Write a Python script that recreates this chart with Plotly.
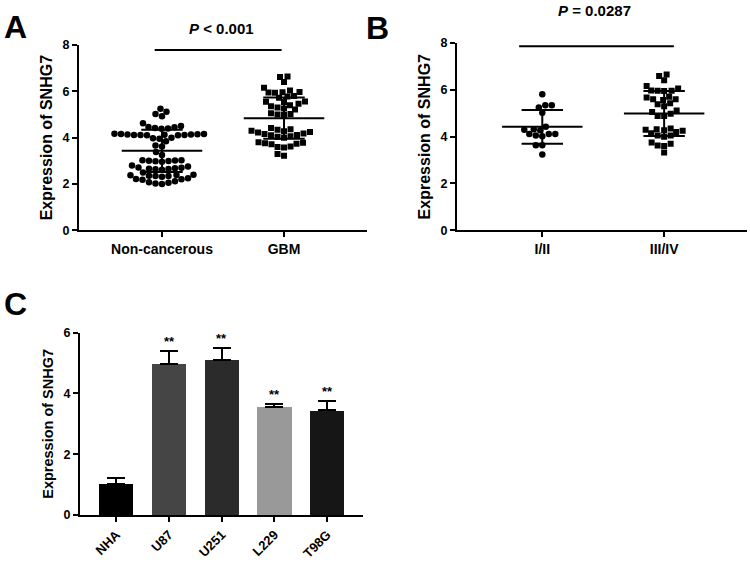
import plotly.graph_objects as go

# ---------------- data ----------------
# Panel A
a_categories = ["Non-cancerous", "GBM"]
a_noncancerous = [5.25, 5.12, 5.02, 4.92,
                  4.62, 4.50, 4.45, 4.42, 4.40, 4.38, 4.46,
                  4.10, 4.12, 4.14, 4.16, 4.11, 4.13, 4.15, 4.17, 4.12, 4.14, 4.10, 4.16,
                  4.00, 3.98, 3.95, 3.85, 3.66, 3.62, 3.38, 3.25,
                  3.02, 3.00, 3.01, 2.98, 2.99, 3.03, 2.96, 2.80,
                  2.70, 2.68, 2.65, 2.66, 2.62, 2.64, 2.71, 2.76, 2.50,
                  2.40, 2.38, 2.35, 2.36, 2.39, 2.34, 2.31,
                  2.25, 2.20, 2.18, 2.22, 2.08, 2.02, 2.00, 2.05, 2.12]
a_gbm = [6.64, 6.62, 6.40, 6.16, 6.04, 5.97, 5.96, 5.95, 5.94, 5.80, 5.78, 5.72,
         5.56, 5.55, 5.54, 5.46, 5.36, 5.40, 5.30, 5.26, 5.22, 5.05, 5.02, 5.00, 4.98, 4.42,
         4.00, 4.04, 4.06, 4.10, 4.12, 4.16, 4.18, 4.22, 4.24, 4.28, 4.30, 4.34, 4.36,
         3.80, 3.78, 3.76, 3.74, 3.72, 3.62, 3.60, 3.58, 3.30, 3.22]
a_means = [3.43, 4.84]
a_sds = [0.91, 0.89]
a_pvalue = "<b><i>P</i> &lt; 0.001</b>"

# Panel B
b_categories = ["I/II", "III/IV"]
b_stage12 = [5.81, 5.34, 5.34, 5.25, 5.02, 4.30, 4.43, 4.28, 4.32,
             4.12, 4.12, 4.02, 4.05, 4.12, 3.63, 3.63, 3.24]
b_stage34 = [6.66, 6.59, 6.41, 6.17, 6.06, 5.96, 5.96, 5.95, 5.97, 5.71, 5.68,
             5.60, 5.60, 5.57, 5.43, 5.39, 5.30, 5.12, 5.05, 4.98, 4.88, 4.88,
             4.35, 4.30, 4.28, 4.25, 4.20, 4.32, 4.15, 4.05, 4.05, 4.00,
             3.75, 3.70, 3.62, 3.60, 3.32]
b_means = [4.42, 4.99]
b_sds = [0.72, 0.96]
b_pvalue = "<b><i>P</i> = 0.0287</b>"

# Panel C
c_cells = ["NHA", "U87", "U251", "L229", "T98G"]
c_values = [1.02, 4.98, 5.11, 3.56, 3.45]
c_errors = [0.21, 0.42, 0.38, 0.11, 0.30]
c_stars = ["", "**", "**", "**", "**"]
c_colors = ["#000000", "#454545", "#2b2b2b", "#999999", "#161616"]

y_title = "Expression of SNHG7"

# ---------------- layout geometry ----------------
W, H = 750, 563
FONT = "Liberation Sans, Arial, sans-serif"


def xd(p0, p1):
    return [p0 / W, p1 / W]


def yd(top, bottom):
    return [1 - bottom / H, 1 - top / H]


A_X, A_Y = (79, 367), (39, 229)
B_X, B_Y = (457, 747), (37, 229)
C_X, C_Y = (80, 363), (334, 521)
A_XR, A_YR = [-0.68, 1.68], [0, 8]
B_XR, B_YR = [-0.70, 1.68], [0, 8]
C_XR, C_YR = [-0.69, 4.68], [0, 6]


def beeswarm(values, pxx, pxy, D=6.5, step=0.5):
    """Deterministic beeswarm: offsets (in data units) from values."""
    order = sorted(range(len(values)), key=lambda i: values[i])
    placed = []
    offs = [0.0] * len(values)
    for i in order:
        y = values[i] * pxy
        found = None
        k = 0
        while found is None:
            cands = [0.0] if k == 0 else [-k * step, k * step]
            for c in cands:
                if all((c - px) ** 2 + (y - py) ** 2 >= D * D for px, py in placed):
                    found = c
                    break
            k += 1
        placed.append((found, y))
        offs[i] = found / pxx
    return offs


fig = go.Figure()


def scatter_panel(groups, symbols, means, sds, xaxis, yaxis, xpix, ypix, xr, yr):
    pxx = (xpix[1] - xpix[0]) / (xr[1] - xr[0])
    pxy = (ypix[1] - ypix[0]) / (yr[1] - yr[0])
    for gi, (vals, sym) in enumerate(zip(groups, symbols)):
        offs = beeswarm(vals, pxx, pxy)
        fig.add_trace(go.Scatter(
            x=[gi + o for o in offs], y=vals, mode="markers",
            marker=dict(symbol=sym, size=6 if sym == "square" else 6.5, color="black",
                        line=dict(width=0)),
            xaxis=xaxis, yaxis=yaxis, showlegend=False, hoverinfo="y"))
    lx, ly = [], []
    for gi, (m, s) in enumerate(zip(means, sds)):
        lx += [gi - 0.33, gi + 0.33, None, gi, gi, None,
               gi - 0.17, gi + 0.17, None, gi - 0.17, gi + 0.17, None]
        ly += [m, m, None, m - s, m + s, None,
               m + s, m + s, None, m - s, m - s, None]
    fig.add_trace(go.Scatter(x=lx, y=ly, mode="lines", line=dict(color="black", width=2),
                             xaxis=xaxis, yaxis=yaxis, showlegend=False, hoverinfo="skip"))


scatter_panel([a_noncancerous, a_gbm], ["circle", "square"], a_means, a_sds,
              "x", "y", A_X, A_Y, A_XR, A_YR)
scatter_panel([b_stage12, b_stage34], ["circle", "square"], b_means, b_sds,
              "x2", "y2", B_X, B_Y, B_XR, B_YR)

fig.add_trace(go.Bar(
    x=list(range(len(c_cells))), y=c_values, width=0.65,
    marker=dict(color=c_colors, line=dict(width=0)),
    error_y=dict(type="data", symmetric=False, array=c_errors,
                 arrayminus=[0] * len(c_errors), color="black", thickness=2, width=9),
    xaxis="x3", yaxis="y3", showlegend=False))

tick_font = dict(family=FONT, size=12.5, color="black", weight="bold")
cat_font = dict(family=FONT, size=14, color="black", weight="bold")
title_font = dict(family=FONT, size=16, color="black", weight="bold")

common_x = dict(showline=True, linewidth=2, linecolor="black", ticks="outside",
                ticklen=5, tickwidth=2, tickcolor="black", showgrid=False, zeroline=False,
                fixedrange=True)
common_y = dict(showline=True, linewidth=2, linecolor="black", ticks="outside",
                ticklen=5, tickwidth=2, tickcolor="black", showgrid=False, zeroline=False,
                fixedrange=True, tickfont=tick_font)

fig.update_layout(
    width=W, height=H, autosize=False,
    margin=dict(l=0, r=0, t=0, b=0),
    paper_bgcolor="white", plot_bgcolor="white",
    font=dict(family=FONT, color="black"),
    xaxis=dict(domain=xd(*A_X), range=A_XR, anchor="y", tickvals=[0, 1],
               ticktext=a_categories, tickfont=cat_font, **common_x),
    yaxis=dict(domain=yd(*A_Y), range=A_YR, anchor="x", tickvals=[0, 2, 4, 6, 8],
               title=dict(text=y_title, font=title_font, standoff=6), **common_y),
    xaxis2=dict(domain=xd(*B_X), range=B_XR, anchor="y2", tickvals=[0, 1],
                ticktext=b_categories, tickfont=cat_font, **common_x),
    yaxis2=dict(domain=yd(*B_Y), range=B_YR, anchor="x2", tickvals=[0, 2, 4, 6, 8],
                title=dict(text=y_title, font=title_font, standoff=6), **common_y),
    xaxis3=dict(domain=xd(*C_X), range=C_XR, anchor="y3", tickvals=list(range(len(c_cells))),
                ticktext=c_cells, tickangle=-45,
                tickfont=dict(family=FONT, size=13, color="black", weight="bold"), **common_x),
    yaxis3=dict(domain=yd(*C_Y), range=C_YR, anchor="x3", tickvals=[0, 2, 4, 6],
                title=dict(text=y_title, font=dict(family=FONT, size=14.5, color="black",
                                                   weight="bold"), standoff=6),
                **common_y),
    bargap=0,
)

# significance bars
fig.add_shape(type="line", xref="x", yref="y", x0=-0.06, x1=0.98, y0=7.79, y1=7.79,
              line=dict(color="black", width=2))
fig.add_shape(type="line", xref="x2", yref="y2", x0=-0.19, x1=1.08, y0=7.86, y1=7.86,
              line=dict(color="black", width=2))

annots = [
    dict(text=a_pvalue, x=221 / W, y=1 - 22 / H, xref="paper", yref="paper",
         showarrow=False, xanchor="center", yanchor="middle",
         font=dict(family=FONT, size=15, color="black")),
    dict(text=b_pvalue, x=594 / W, y=1 - 4 / H, xref="paper", yref="paper",
         showarrow=False, xanchor="center", yanchor="middle",
         font=dict(family=FONT, size=15, color="black")),
]
for letter, (lx, ly) in zip(["A", "B", "C"], [(2, 20), (364, 22), (2, 305)]):
    annots.append(dict(text="<b>%s</b>" % letter, x=lx / W, y=1 - ly / H, xref="paper",
                       yref="paper", showarrow=False, xanchor="left", yanchor="middle",
                       font=dict(family=FONT, size=32, color="black")))
for i, (v, e, s) in enumerate(zip(c_values, c_errors, c_stars)):
    if s:
        annots.append(dict(text="<b>%s</b>" % s, x=i, y=v + e, xref="x3", yref="y3",
                           showarrow=False, xanchor="center", yanchor="bottom",
                           font=dict(family=FONT, size=13, color="black")))
fig.update_layout(annotations=annots)

fig.write_html("out.html",
               config={"displayModeBar": False},
               post_script="document.body.style.margin='0';"
                           "document.body.style.padding='0';"
                           "document.body.style.overflow='hidden';")
